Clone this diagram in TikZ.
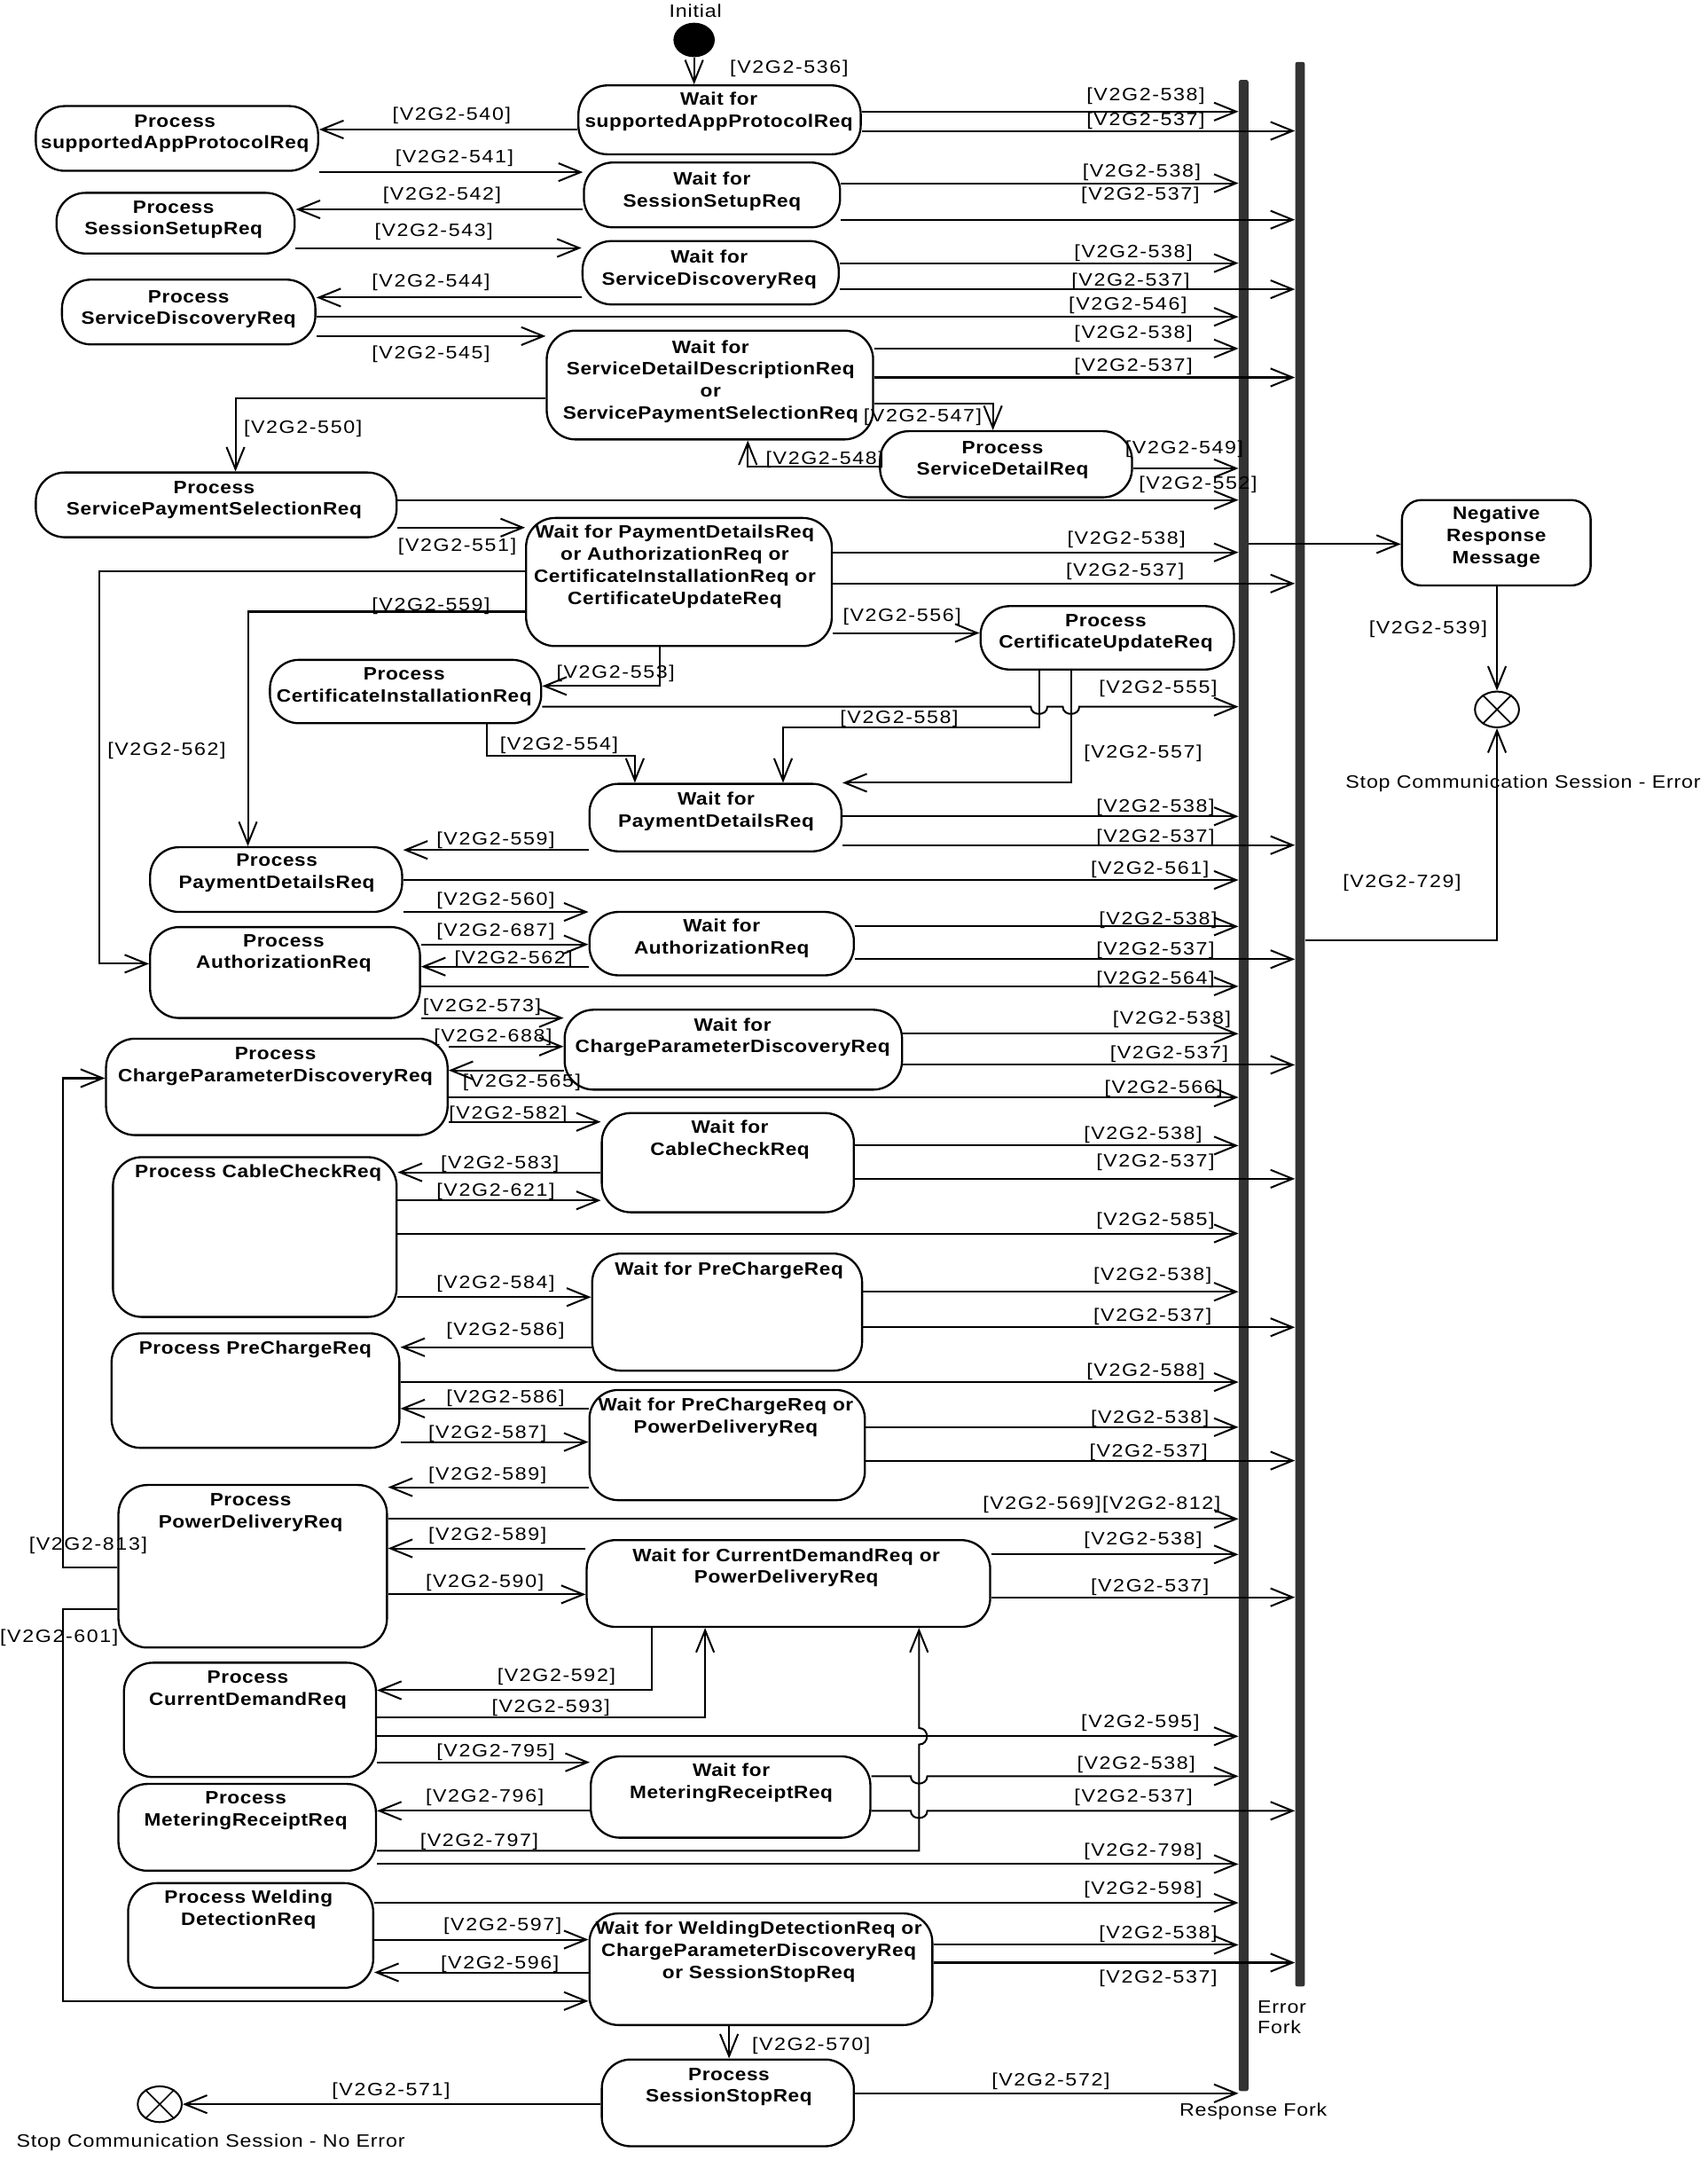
\documentclass[tikz,border=0pt]{standalone}
\usepackage{fontspec}
\setmainfont{Liberation Sans}
\newfontfamily\labfont[FakeStretch=1.15,LetterSpace=8]{Liberation Sans}
\newfontfamily\stfont[FakeStretch=1.12,LetterSpace=3]{Liberation Sans}
\newfontfamily\txfont[FakeStretch=1.15,LetterSpace=4]{Liberation Sans}
\usetikzlibrary{arrows.meta,shapes.geometric}
\newcounter{labc}
\newcommand{\glab}[3]{\stepcounter{labc}\node[lab] (lab\arabic{labc}) at (#1,#2) {#3};}
\newcommand{\stbox}[5]{\node[st, minimum width={#4-#2}, minimum height={#5-#3}] (#1) at ({(#2+#4)/2},{(#3+#5)/2}) {};}
\newcommand{\sttext}[4]{\node[stxt] (#1) at (#2,#3) {#4};}
\newcommand{\toRF}[2]{\draw[arr] (#1.east |- 0,#2) -- (RF.west |- 0,#2);}
\newcommand{\toEF}[2]{\draw[arr] (#1.east |- 0,#2) -- (EF.west |- 0,#2);}
\newcommand{\hor}[3]{\draw[arr] (#1 |- 0,#3) -- (#2 |- 0,#3);}
\begin{document}
\begin{tikzpicture}[x=1pt,y=-1pt,
  st/.style={draw, line width=1.5pt, rounded corners=21pt, inner sep=0pt},
  nrm/.style={draw, line width=1.5pt, rounded corners=14pt, inner sep=0pt},
  arr/.style={line width=1.3pt, -{Straight Barb[length=16pt,width=13pt]}},
  lab/.style={font=\labfont\fontsize{13}{15}\selectfont, inner sep=0pt},
  stxt/.style={font=\stfont\bfseries\fontsize{13}{16}\selectfont, inner sep=0pt, align=center},
  txt/.style={font=\txfont\fontsize{13}{15}\selectfont, inner sep=0pt, align=left},
  bar/.style={fill=black!80, draw=none, inner sep=0pt, minimum width=7pt, rounded corners=1.5pt}
]
\fill[white] (0,0) rectangle (1240,1568);
\useasboundingbox (0,0) rectangle (1240,1568);

% fork bars
\node[bar, minimum height=1460pt] (RF) at (903,788) {};
\node[bar, minimum height=1397pt] (EF) at (944,743.5) {};

% states
\stbox{W1}{420}{62}{625}{112}
\stbox{P1}{26}{77}{231}{124}
\stbox{W2}{424}{118}{610}{165}
\stbox{P2}{41}{140}{214}{184}
\stbox{W3}{423}{175}{609}{221}
\stbox{P3}{45}{203}{229}{250}
\stbox{W4}{397}{240}{634}{319}
\stbox{PSD}{639}{313}{822}{361}
\stbox{P4}{26}{343}{288}{390}
\stbox{W5}{382}{376}{604}{469}
\stbox{PCU}{712}{440}{896}{486}
\stbox{PCI}{196}{479}{393}{525}
\stbox{WPay}{428}{569}{611}{618}
\stbox{PPay}{109}{615}{292}{662}
\stbox{WAuth}{428}{662}{620}{708}
\stbox{PAuth}{109}{673}{305}{739}
\stbox{WCPD}{410}{733}{655}{791}
\stbox{PCPD}{77}{754}{325}{824}
\stbox{WCC}{437}{808}{620}{880}
\stbox{PCC}{82}{840}{288}{956}
\stbox{WPC}{430}{910}{626}{995}
\stbox{PPC}{81}{968}{290}{1051}
\stbox{WPCPD}{428}{1009}{628}{1089}
\stbox{PPDel}{86}{1078}{281}{1196}
\stbox{WCDPD}{426}{1118}{719}{1181}
\stbox{PCD}{90}{1207}{273}{1290}
\stbox{WMR}{429}{1275}{632}{1334}
\stbox{PMR}{86}{1295}{273}{1358}
\stbox{PWD}{93}{1367}{271}{1443}
\stbox{WWD}{428}{1389}{677}{1470}
\stbox{PSS}{437}{1495}{620}{1558}
\node[nrm, minimum width=137pt, minimum height=62pt] (NRM) at (1086.5,394) {};

% initial and final nodes
\node[ellipse, fill=black, minimum width=30pt, minimum height=25pt, inner sep=0pt] (init) at (504,29) {};
\node[ellipse, draw, line width=1.3pt, minimum width=32pt, minimum height=26pt, inner sep=0pt] (stopE) at (1087,515) {};
\draw[line width=1.1pt] (stopE.45) -- (stopE.225) (stopE.135) -- (stopE.315);
\node[ellipse, draw, line width=1.3pt, minimum width=32pt, minimum height=26pt, inner sep=0pt] (stopN) at (116,1527.5) {};
\draw[line width=1.1pt] (stopN.45) -- (stopN.225) (stopN.135) -- (stopN.315);

% state texts
\sttext{tW1}{522}{81}{Wait for\\supportedAppProtocolReq}
\sttext{tP1}{127}{97}{Process\\supportedAppProtocolReq}
\sttext{tW2}{517}{139}{Wait for\\SessionSetupReq}
\sttext{tP2}{126}{159.5}{Process\\SessionSetupReq}
\sttext{tW3}{515}{195.5}{Wait for\\ServiceDiscoveryReq}
\sttext{tP3}{137}{224.5}{Process\\ServiceDiscoveryReq}
\sttext{tW4}{516}{277}{Wait for\\ServiceDetailDescriptionReq\\or\\ServicePaymentSelectionReq}
\sttext{tPSD}{728}{334}{Process\\ServiceDetailReq}
\sttext{tP4}{155.5}{363}{Process\\ServicePaymentSelectionReq}
\sttext{tW5}{490}{411.5}{Wait for PaymentDetailsReq\\or AuthorizationReq or\\CertificateInstallationReq or\\CertificateUpdateReq}
\sttext{tPCU}{803}{459.5}{Process\\CertificateUpdateReq}
\sttext{tPCI}{293.5}{498.6}{Process\\CertificateInstallationReq}
\sttext{tWPay}{520}{589}{Wait for\\PaymentDetailsReq}
\sttext{tPPay}{201}{634}{Process\\PaymentDetailsReq}
\sttext{tWAuth}{524}{681}{Wait for\\AuthorizationReq}
\sttext{tPAuth}{206}{692}{Process\\AuthorizationReq}
\sttext{tWCPD}{532}{753}{Wait for\\ChargeParameterDiscoveryReq}
\sttext{tPCPD}{200}{774}{Process\\ChargeParameterDiscoveryReq}
\sttext{tWCC}{530}{827.5}{Wait for\\CableCheckReq}
\sttext{tPCC}{187.5}{851.4}{Process CableCheckReq}
\sttext{tWPC}{529.4}{922.2}{Wait for PreChargeReq}
\sttext{tPPC}{185.4}{979.8}{Process PreChargeReq}
\sttext{tWPCPD}{527}{1029}{Wait for PreChargeReq or\\PowerDeliveryReq}
\sttext{tPPDel}{182}{1098}{Process\\PowerDeliveryReq}
\sttext{tWCDPD}{571}{1138}{Wait for CurrentDemandReq or\\PowerDeliveryReq}
\sttext{tPCD}{180}{1226.6}{Process\\CurrentDemandReq}
\sttext{tWMR}{531}{1294}{Wait for\\MeteringReceiptReq}
\sttext{tPMR}{178.5}{1314.6}{Process\\MeteringReceiptReq}
\sttext{tPWD}{180.5}{1386}{Process Welding\\DetectionReq}
\sttext{tWWD}{551}{1417}{Wait for WeldingDetectionReq or\\ChargeParameterDiscoveryReq\\or SessionStopReq}
\sttext{tPSS}{529.3}{1515}{Process\\SessionStopReq}
\sttext{tNRM}{1086.5}{390}{Negative\\Response\\Message}

% other texts
\node[txt] (tinit) at (505,8) {Initial};
\node[txt] (terr) at (1106,569) {Stop Communication Session - Error};
\node[txt] (tnoerr) at (153,1555) {Stop Communication Session - No Error};
\node[txt, anchor=west] (tfork) at (913,1464.5) {Error\\Fork};
\node[txt] (tresp) at (910,1533) {Response Fork};

% connectors
\draw[arr] (init.south) -- (init.south |- W1.north); \glab{573}{50}{[V2G2-536]}

\hor{W1.west}{P1.east}{94} \glab{328}{84}{[V2G2-540]}
\hor{P1.east}{W2.west}{125} \glab{330}{115}{[V2G2-541]}
\hor{W2.west}{P2.east}{152} \glab{321}{142}{[V2G2-542]}
\hor{P2.east}{W3.west}{180} \glab{315}{168}{[V2G2-543]}
\hor{W3.west}{P3.east}{216} \glab{313}{205}{[V2G2-544]}
\hor{P3.east}{W4.west}{244} \glab{313}{257}{[V2G2-545]}

\toRF{W1}{81} \glab{832}{70}{[V2G2-538]}
\toEF{W1}{95} \glab{832}{88}{[V2G2-537]}
\toRF{W2}{133} \glab{829}{125}{[V2G2-538]}
\toEF{W2}{159.5} \glab{828}{142}{[V2G2-537]}
\toRF{W3}{191} \glab{823}{184}{[V2G2-538]}
\toEF{W3}{210} \glab{821}{204}{[V2G2-537]}
\toRF{P3}{230} \glab{819}{222}{[V2G2-546]}
\toRF{W4}{253} \glab{823}{242}{[V2G2-538]}
\toEF{W4}{274} \glab{823}{266}{[V2G2-537]}

\draw[arr] (W4.west |- 0,289) -| (P4.north -| 171,0); \glab{220}{311}{[V2G2-550]}
\draw[arr] (W4.east |- 0,293) -| (PSD.north -| 721,0); \glab{670}{303}{[V2G2-547]}
\draw[arr] (PSD.west |- 0,339) -| (W4.south -| 543,0); \glab{599}{334}{[V2G2-548]}
\toRF{PSD}{340} \glab{860}{326}{[V2G2-549]}
\toRF{P4}{363} \glab{870}{352}{[V2G2-552]}
\hor{P4.east}{W5.west}{383} \glab{332}{397}{[V2G2-551]}

\toRF{W5}{401} \glab{818}{392}{[V2G2-538]}
\toEF{W5}{423.6} \glab{817}{415}{[V2G2-537]}
\draw[arr] (RF.east |- 0,395) -- (NRM.west |- 0,395);
\draw[arr] (NRM.south -| stopE.north) -- (stopE.north); \glab{1037}{457}{[V2G2-539]}
\draw[arr] (EF.east |- 0,682.4) -| (stopE.south); \glab{1018}{641}{[V2G2-729]}
\draw[arr] (W5.west |- 0,415) -| (72,699.6) -- (PAuth.west |- 0,699.6); \glab{121}{545}{[V2G2-562]}
\draw[arr] (W5.west |- 0,444) -| (PPay.north -| 180,0); \glab{313}{440}{[V2G2-559]}
\draw[arr] (W5.south -| 479,0) |- (PCI.east |- 0,498); \glab{447}{489}{[V2G2-553]}
\hor{W5.east}{PCU.west}{459.5} \glab{655}{448}{[V2G2-556]}
\draw[arr] (PCI.east |- 0,513) -- (748.5,513) .. controls (748.5,520) and (760.5,520) .. (760.5,513) -- (771.7,513) .. controls (771.7,520) and (783.7,520) .. (783.7,513) -- (RF.west |- 0,513); \glab{841}{500}{[V2G2-555]}
\draw[arr] (PCI.south -| 353.5,0) |- (461,548.6) -- (WPay.north -| 461,0); \glab{406}{541}{[V2G2-554]}
\draw[arr] (PCU.south -| 754.5,0) |- (568.6,528) -- (WPay.north -| 568.6,0); \glab{653}{522}{[V2G2-558]}
\draw[arr] (PCU.south -| 777.7,0) |- (WPay.north east); \glab{830}{547}{[V2G2-557]}

\toRF{WPay}{592.6} \glab{839}{586}{[V2G2-538]}
\toEF{WPay}{613.5} \glab{839}{608}{[V2G2-537]}
\hor{WPay.west}{PPay.east}{617} \glab{360}{610}{[V2G2-559]}
\toRF{PPay}{638.8} \glab{835}{631}{[V2G2-561]}
\hor{PPay.east}{WAuth.west}{662} \glab{360}{654}{[V2G2-560]}
\hor{PAuth.east}{WAuth.west}{685.6} \glab{360}{676}{[V2G2-687]}
\hor{WAuth.west}{PAuth.east}{701.7} \glab{373}{696}{[V2G2-562]}
\toRF{WAuth}{672.5} \glab{841}{668}{[V2G2-538]}
\toEF{WAuth}{696.3} \glab{839}{690}{[V2G2-537]}
\toRF{PAuth}{716} \glab{839}{711}{[V2G2-564]}
\hor{PAuth.east}{WCPD.west}{739} \glab{350}{731}{[V2G2-573]}
\hor{PCPD.east}{WCPD.west}{759.7} \glab{358}{753}{[V2G2-688]}
\hor{WCPD.west}{PCPD.east}{777} \glab{379}{786}{[V2G2-565]}
\toRF{WCPD}{750.4} \glab{851}{740}{[V2G2-538]}
\toEF{WCPD}{773} \glab{849}{765}{[V2G2-537]}
\toRF{PCPD}{796.6} \glab{845}{790}{[V2G2-566]}
\hor{PCPD.east}{WCC.west}{814.4} \glab{369}{809}{[V2G2-582]}
\toRF{WCC}{831.6} \glab{830}{824}{[V2G2-538]}
\toEF{WCC}{855.7} \glab{839}{844}{[V2G2-537]}
\hor{WCC.west}{PCC.east}{851} \glab{363}{845}{[V2G2-583]}
\hor{PCC.east}{WCC.west}{871.4} \glab{360}{865}{[V2G2-621]}
\toRF{PCC}{895.4} \glab{839}{886}{[V2G2-585]}
\hor{PCC.east}{WPC.west}{941.6} \glab{360}{932}{[V2G2-584]}
\toRF{WPC}{937.7} \glab{837}{926}{[V2G2-538]}
\toEF{WPC}{963.5} \glab{837}{956}{[V2G2-537]}
\hor{WPC.west}{PPC.east}{978} \glab{367}{966}{[V2G2-586]}
\toRF{PPC}{1003.3} \glab{832}{996}{[V2G2-588]}
\hor{WPCPD.west}{PPC.east}{1022.5} \glab{367}{1015}{[V2G2-586]}
\hor{PPC.east}{WPCPD.west}{1046.8} \glab{354}{1041}{[V2G2-587]}
\toRF{WPCPD}{1036} \glab{835}{1030}{[V2G2-538]}
\toEF{WPCPD}{1060.3} \glab{834}{1054}{[V2G2-537]}
\hor{WPCPD.west}{PPDel.east}{1079.6} \glab{354}{1071}{[V2G2-589]}
\toRF{PPDel}{1102.6} \glab{800}{1092}{[V2G2-569][V2G2-812]}
\hor{WCDPD.west}{PPDel.east}{1124} \glab{354}{1115}{[V2G2-589]}
\hor{PPDel.east}{WCDPD.west}{1157.4} \glab{352}{1149}{[V2G2-590]}
\toRF{WCDPD}{1128.4} \glab{830}{1118}{[V2G2-538]}
\toEF{WCDPD}{1159.5} \glab{835}{1152}{[V2G2-537]}
\draw[arr] (PPDel.west |- 0,1138) -| (46,782.7) -- (PCPD.west |- 0,782.7); \glab{64}{1122}{[V2G2-813]}
\draw[arr] (PPDel.west |- 0,1168) -| (46,1452.6) -- (WWD.west |- 0,1452.6); \glab{43}{1189}{[V2G2-601]}
\draw[arr] (WCDPD.south -| 473,0) |- (PCD.east |- 0,1227); \glab{404}{1217}{[V2G2-592]}
\draw[arr] (PCD.east |- 0,1246.5) -| (WCDPD.south -| 512,0); \glab{400}{1240}{[V2G2-593]}
\toRF{PCD}{1260.4} \glab{828}{1251}{[V2G2-595]}
\hor{PCD.east}{WMR.west}{1279.3} \glab{360}{1272}{[V2G2-795]}
\hor{WMR.west}{PMR.east}{1314.5} \glab{352}{1305}{[V2G2-796]}
\draw[arr] (WMR.east |- 0,1289.4) -- (661.3,1289.4) .. controls (661.3,1296.5) and (673.3,1296.5) .. (673.3,1289.4) -- (RF.west |- 0,1289.4); \glab{825}{1281}{[V2G2-538]}
\draw[arr] (WMR.east |- 0,1314.5) -- (661.3,1314.5) .. controls (661.3,1321.5) and (673.3,1321.5) .. (673.3,1314.5) -- (EF.west |- 0,1314.5); \glab{823}{1305}{[V2G2-537]}
\draw[arr] (PMR.east |- 0,1343.5) -| (667.3,1266.4) .. controls (675,1266.4) and (675,1254.4) .. (667.3,1254.4) -- (WCDPD.south -| 667.3,0); \glab{348}{1337}{[V2G2-797]}
\toRF{PMR}{1353.2} \glab{830}{1344}{[V2G2-798]}
\toRF{PWD}{1381.3} \glab{830}{1372}{[V2G2-598]}
\hor{PWD.east}{WWD.west}{1408} \glab{365}{1398}{[V2G2-597]}
\hor{WWD.west}{PWD.east}{1431.8} \glab{363}{1426}{[V2G2-596]}
\toRF{WWD}{1411.8} \glab{841}{1404}{[V2G2-538]}
\toEF{WWD}{1424.7} \glab{841}{1436}{[V2G2-537]}
\draw[arr] (WWD.south -| 529.4,0) -- (PSS.north -| 529.4,0); \glab{589}{1485}{[V2G2-570]}
\toRF{PSS}{1519.6} \glab{763}{1511}{[V2G2-572]}
\draw[arr] (PSS.west |- 0,1527.5) -- (stopN.east); \glab{284}{1518}{[V2G2-571]}
\end{tikzpicture}
\end{document}
